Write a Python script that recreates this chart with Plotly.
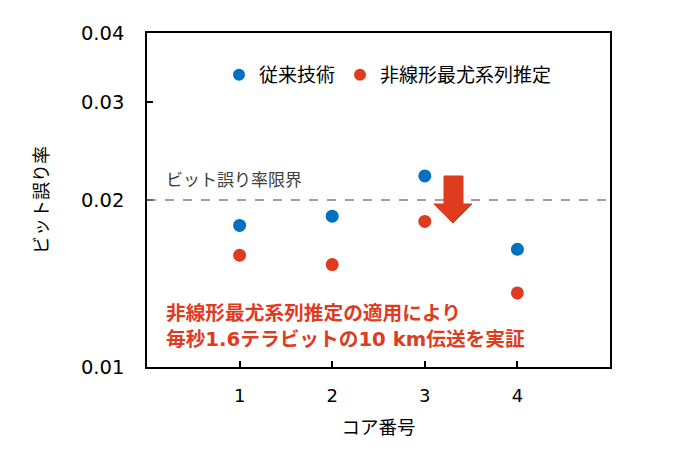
import plotly.graph_objects as go

cores = [1, 2, 3, 4]
conventional = [0.0180, 0.0187, 0.0221, 0.0163]
mlse = [0.0159, 0.0153, 0.0183, 0.0136]
ber_limit = 0.02
y_ticks = [0.01, 0.02, 0.03, 0.04]
y_tick_text = ["0.01", "0.02", "0.03", "0.04"]
x_ticks = [1, 2, 3, 4]

BLUE = "#0070C0"
RED = "#DF3B1F"
FONT = "Verdana, DejaVu Sans, Noto Sans CJK JP"

fig = go.Figure()
fig.add_trace(go.Scatter(x=cores, y=conventional, mode="markers", name="従来技術",
                         marker=dict(color=BLUE, size=13)))
fig.add_trace(go.Scatter(x=cores, y=mlse, mode="markers", name="非線形最尤系列推定",
                         marker=dict(color=RED, size=13)))

# BER limit dashed line
fig.add_shape(type="line", xref="paper", x0=0, x1=1, yref="y", y0=ber_limit, y1=ber_limit,
              line=dict(color="#808080", width=1.5, dash="dash"))

fig.add_annotation(text="ビット誤り率限界", xref="paper", yref="paper",
                   x=0.037, y=0.56, xanchor="left", yanchor="middle", showarrow=False,
                   font=dict(family=FONT, size=17, color="#404040"))

# red arrow (paper coords)
def px(X):
    return (X - 147) / 463
def py(Y):
    return (367 - Y) / 334
pts = [(444, 176), (463, 176), (463, 204), (472, 204), (453, 223), (434, 204), (444, 204)]
path = "M " + " L ".join(f"{px(a):.4f},{py(b):.4f}" for a, b in pts) + " Z"
fig.add_shape(type="path", xref="paper", yref="paper", path=path,
              fillcolor=RED, line=dict(color=RED, width=1))

fig.add_annotation(text="非線形最尤系列推定の適用により<br>毎秒1.6テラビットの10 km伝送を実証",
                   xref="paper", yref="paper", x=0.037, y=py(326), xanchor="left", yanchor="middle",
                   align="left", showarrow=False,
                   font=dict(family=FONT, size=19.7, color=RED, weight="bold"))

fig.update_layout(
    width=673, height=457,
    margin=dict(l=147, r=63, t=33, b=90),
    paper_bgcolor="white", plot_bgcolor="white",
    font=dict(family=FONT, size=17, color="#000000"),
    showlegend=True,
    legend=dict(orientation="h", x=px(219), y=py(75), xanchor="left", yanchor="middle",
                bgcolor="rgba(0,0,0,0)", font=dict(family=FONT, size=19),
                itemsizing="constant"),
    xaxis=dict(range=[0, 5], tickvals=x_ticks, ticks="inside", ticklen=6, tickwidth=1.5,
               tickcolor="black", showline=True, linecolor="black", linewidth=1.5, mirror=True,
               showgrid=False, zeroline=False, tickfont=dict(size=18), ticklabelstandoff=12,
               title=dict(text="コア番号", font=dict(size=18.5), standoff=16)),
    yaxis=dict(type="log", range=[-2, -1.39794], tickvals=y_ticks, ticktext=y_tick_text,
               ticks="inside", ticklen=6, tickwidth=1.5, tickcolor="black",
               showline=True, linecolor="black", linewidth=1.5, mirror=True,
               showgrid=False, zeroline=False, tickfont=dict(size=19.5), ticklabelstandoff=17,
               title=dict(text="ビット誤り率", font=dict(size=18), standoff=28)),
)

fig.write_html("out.html")
